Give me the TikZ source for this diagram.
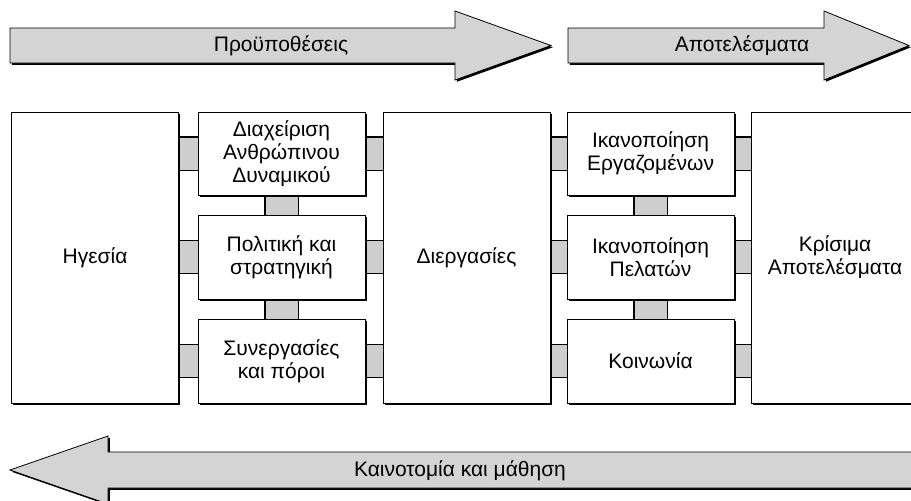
\documentclass[tikz,border=0pt]{standalone}
\usepackage{fontspec}
\setmainfont{Liberation Sans}
\usetikzlibrary{shadows,backgrounds}
\definecolor{barfill}{RGB}{212,212,212}
\definecolor{linkfill}{RGB}{206,206,206}

\begin{document}
\begin{tikzpicture}
        [x=1pt,y=-1pt,every node/.style={font=\fontsize{21}{23}\selectfont,align=center},
        block/.style={draw,fill=white,line width=0.8pt,inner sep=0,minimum width=167pt,
          drop shadow={shadow xshift=1.8pt,shadow yshift=-1.8pt,fill=black,opacity=1}},
        tall/.style={block,minimum height=291pt},
        small/.style={block,minimum height=84pt},
        link/.style={draw=black,line width=1.1pt,double=linkfill,double distance=32pt},
        bar/.style={draw,fill=barfill,line width=0.8pt,line join=miter,
          drop shadow={shadow xshift=1.8pt,shadow yshift=-1.8pt,fill=black,opacity=1}}]

        \useasboundingbox (0,0) rectangle (911,501);
        \clip (0,0) rectangle (911,501);

        % arrows
        \draw[bar] (10,28) -- (455,28) -- (455,11) -- (551,45.5) -- (455,80) -- (455,63) -- (10,63) -- cycle;
        \draw[bar] (568,28) -- (824,28) -- (824,11) -- (909,45.5) -- (824,80) -- (824,63) -- (568,63) -- cycle;
        \draw[bar] (10,470) -- (108,436) -- (108,452) -- (930,452) -- (930,488) -- (108,488) -- (108,504) -- cycle;
        \node (enablers) at (281,45.5) {Προϋποθέσεις};
        \node (outcomes) at (742,45.5) {Αποτελέσματα};
        \node (learning) at (460,471) {Καινοτομία και μάθηση};

        % boxes
        \node[tall] (lead) at (95,257.5) {Ηγεσία};
        \node[small,minimum height=83pt] (hrm) at (281.5,153.5) {Διαχείριση\\Ανθρώπινου\\Δυναμικού};
        \node[small] (policy) at (281.5,257) {Πολιτική και\\στρατηγική};
        \node[small] (partners) at (281.5,361) {Συνεργασίες\\και πόροι};
        \node[tall] (proc) at (466.5,257.5) {Διεργασίες};
        \node[small,minimum height=83pt] (staff) at (650.5,153.5) {Ικανοποίηση\\Εργαζομένων};
        \node[small] (clients) at (650.5,257) {Ικανοποίηση\\Πελατών};
        \node[small] (society) at (650.5,361) {Κοινωνία};
        \node[tall] (results) at (835,257.5) {Κρίσιμα\\Αποτελέσματα};

        \begin{scope}[on background layer]
        \draw[link] (hrm.west) -- (hrm.west -| lead.east);
        \draw[link] (policy.west) -- (policy.west -| lead.east);
        \draw[link] (partners.west) -- (partners.west -| lead.east);
        \draw[link] (hrm.east) -- (hrm.east -| proc.west);
        \draw[link] (policy.east) -- (policy.east -| proc.west);
        \draw[link] (partners.east) -- (partners.east -| proc.west);
        \draw[link] (staff.west) -- (staff.west -| proc.east);
        \draw[link] (clients.west) -- (clients.west -| proc.east);
        \draw[link] (society.west) -- (society.west -| proc.east);
        \draw[link] (staff.east) -- (staff.east -| results.west);
        \draw[link] (clients.east) -- (clients.east -| results.west);
        \draw[link] (society.east) -- (society.east -| results.west);
        \draw[link] (hrm.south) -- (policy.north);
        \draw[link] (policy.south) -- (partners.north);
        \draw[link] (staff.south) -- (clients.north);
        \draw[link] (clients.south) -- (society.north);
        \end{scope}

      \end{tikzpicture}
\end{document}
